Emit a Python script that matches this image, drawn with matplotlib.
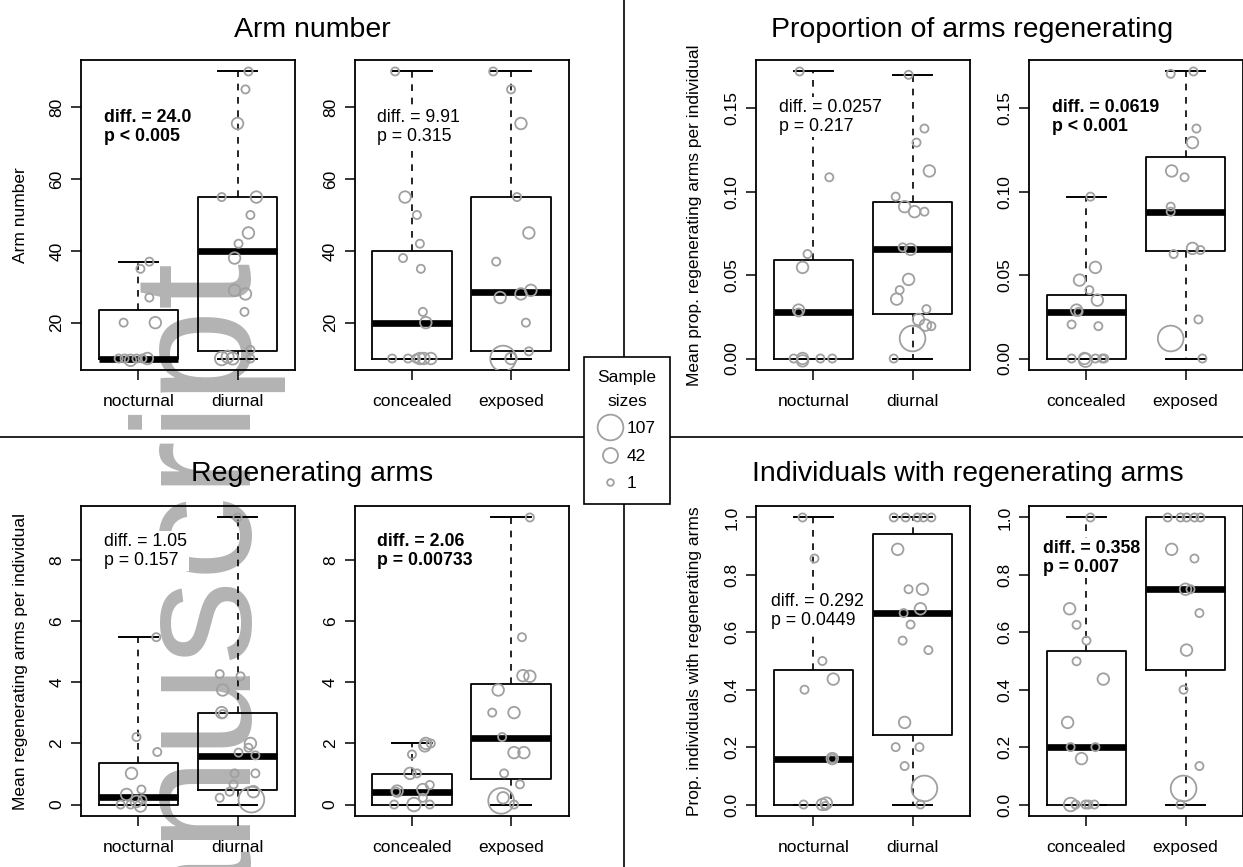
import matplotlib
matplotlib.use('Agg')
import matplotlib.pyplot as plt
from matplotlib.lines import Line2D
import numpy as np

plt.rcParams['font.family'] = ['Liberation Sans', 'DejaVu Sans']

W, H = 1243, 867

time_groups = ['nocturnal', 'diurnal']
habitat_groups = ['concealed', 'exposed']

# box stats: (lower whisker, q1, median, q3, upper whisker)
arm_time_box = [(10, 10, 10, 23.5, 37), (10, 12, 40, 55, 90)]
arm_hab_box = [(10, 10, 20, 40, 90), (10, 12, 28.5, 55, 90)]
prop_time_box = [(0, 0, 0.028, 0.059, 0.172), (0, 0.0266, 0.0658, 0.094, 0.170)]
prop_hab_box = [(0, 0, 0.028, 0.038, 0.097), (0, 0.0646, 0.088, 0.121, 0.172)]
regen_time_box = [(0, 0, 0.25, 1.35, 5.48), (0, 0.49, 1.59, 3.01, 9.4)]
regen_hab_box = [(0, 0, 0.42, 0.99, 2.0), (0, 0.82, 2.19, 3.95, 9.4)]
indiv_time_box = [(0, 0, 0.16, 0.469, 1.0), (0, 0.242, 0.667, 0.942, 1.0)]
indiv_hab_box = [(0, 0, 0.2, 0.536, 1.0), (0, 0.469, 0.75, 1.0, 1.0)]

# species points: (value, jitter, sample size)
arm_noc = [(20, -0.15, 8), (35, 0.02, 8), (37, 0.11, 8), (27, 0.11, 8), (20, 0.17, 25),
           (10, -0.2, 8), (10, -0.14, 8), (9.5, -0.08, 25), (10, -0.02, 8), (10, 0.04, 8), (10, 0.09, 25)]
arm_diu = [(90, 0.11, 8), (85, 0.08, 8), (75.5, 0, 25), (55, -0.16, 8), (55, 0.19, 25), (50, 0.13, 8),
           (45, 0.11, 25), (42, 0.01, 8), (38, -0.03, 25), (29, -0.03, 25), (28, 0.08, 25), (23, 0.07, 8),
           (12.4, 0.13, 8), (10, -0.16, 35), (10.5, -0.1, 28), (10, -0.05, 28), (10, 0.13, 8)]
arm_con = [(90, -0.17, 8), (55, -0.07, 25), (50, 0.05, 8), (42, 0.08, 8), (38, -0.09, 8), (35, 0.09, 8),
           (23, 0.11, 8), (20, 0.14, 25), (10, -0.2, 8), (10, -0.04, 8), (10, 0.04, 8), (10, 0.08, 25),
           (10, 0.12, 25), (10, 0.19, 25)]
arm_exp = [(90, -0.18, 8), (85, 0, 8), (75.5, 0.1, 25), (55, 0.06, 8), (45, 0.18, 25), (37, -0.15, 8),
           (27, -0.11, 25), (28, 0.1, 25), (29, 0.2, 25), (20, 0.15, 8), (12, 0.18, 8), (10, -0.08, 107),
           (10, 0, 25)]

prop_noc = [(0.172, -0.14, 8), (0.1086, 0.16, 8), (0.0626, -0.06, 8), (0.0546, -0.11, 25), (0.029, -0.15, 25),
            (0.0276, -0.15, 8), (0, -0.2, 8), (0, -0.11, 25), (-0.0014, -0.11, 25), (0, 0.07, 8), (0, 0.19, 8)]
prop_diu = [(0.170, -0.04, 8), (0.1378, 0.12, 8), (0.1294, 0.04, 8), (0.1124, 0.17, 25), (0.097, -0.17, 8),
            (0.091, -0.08, 25), (0.088, 0.02, 25), (0.088, 0.12, 8), (0.0666, -0.1, 8), (0.0654, -0.02, 25),
            (0.0474, -0.04, 25), (0.041, -0.13, 8), (0.0356, -0.16, 25), (0.0296, 0.14, 8), (0.0234, 0.06, 25),
            (0.020, 0.13, 25), (0.0194, 0.19, 8), (0.012, 0, 107), (0, -0.19, 8)]
prop_con = [(0.097, 0.04, 8), (0.0546, 0.09, 25), (0.047, -0.07, 25), (0.041, 0.03, 8), (0.035, 0.11, 25),
            (0.029, -0.1, 25), (0.028, -0.08, 8), (0.0204, -0.15, 8), (0.0194, 0.12, 8), (0, -0.15, 8),
            (0, -0.02, 25), (-0.001, -0.01, 35), (0, 0.09, 8), (0, 0.16, 8), (0, 0.18, 8)]
prop_exp = [(0.1706, -0.15, 8), (0.172, 0.08, 8), (0.1378, 0.11, 8), (0.1294, 0.07, 25), (0.1124, -0.14, 25),
            (0.1086, -0.01, 8), (0.091, -0.15, 8), (0.088, -0.15, 8), (0.0626, -0.12, 8), (0.066, 0.07, 25),
            (0.065, 0.15, 8), (0.0234, 0.13, 8), (0.012, -0.15, 107), (0, 0.17, 8)]

regen_noc = [(5.48, 0.18, 8), (2.21, -0.02, 8), (1.72, 0.19, 8), (1.02, -0.07, 25), (0.49, 0.03, 8),
             (0.33, -0.12, 25), (0, -0.18, 8), (0, -0.08, 8), (0.1, -0.02, 25), (-0.05, 0.02, 25), (0.16, 0.04, 8)]
regen_diu = [(9.4, 0, 8), (4.27, -0.18, 8), (4.2, 0.03, 8), (3.75, -0.15, 25), (3.01, -0.16, 25),
             (2.96, -0.15, 8), (2.0, 0.13, 25), (1.86, 0.11, 8), (1.7, 0.01, 8), (1.61, 0.18, 8),
             (1.02, -0.03, 8), (1.02, 0.18, 8), (0.66, -0.04, 8), (0.42, -0.08, 8), (0.42, 0.16, 25),
             (0.22, -0.18, 8), (0.16, 0.14, 107)]
regen_con = [(2.0, 0.14, 25), (2.0, 0.19, 8), (1.92, 0.13, 25), (1.64, 0, 8), (1.02, -0.02, 25),
             (1.02, 0.05, 8), (0.64, 0.18, 8), (0.49, 0.11, 25), (0.44, -0.15, 25), (0.42, -0.16, 8),
             (0.22, 0.11, 8), (0, -0.18, 8), (0, 0.02, 35), (0, 0.18, 8)]
regen_exp = [(9.4, 0.19, 8), (5.48, 0.11, 8), (4.22, 0.12, 25), (4.2, 0.19, 25), (3.75, -0.13, 25),
             (3.01, -0.19, 8), (3.01, 0.03, 25), (2.21, -0.09, 8), (1.7, 0.03, 25), (1.7, 0.13, 25),
             (1.02, -0.07, 8), (0.66, 0.09, 8), (0.12, -0.1, 107), (0.22, -0.08, 25), (0, 0.03, 8)]

indiv_noc = [(1.0, -0.11, 8), (0.857, 0.01, 8), (0.5, 0.09, 8), (0.437, 0.2, 25), (0.4, -0.09, 8),
             (0.16, 0.19, 25), (0.16, 0.19, 8), (0, -0.1, 8), (0, 0.09, 25), (0.005, 0.13, 25), (-0.005, 0.12, 8)]
indiv_diu = [(1, -0.19, 8), (1, -0.07, 8), (1, 0.05, 8), (1, 0.11, 8), (1, 0.19, 8), (0.889, -0.15, 25),
             (0.75, -0.04, 8), (0.75, 0.1, 25), (0.682, 0.08, 25), (0.667, -0.09, 8), (0.627, -0.02, 8),
             (0.571, -0.1, 8), (0.538, 0.16, 8), (0.286, -0.08, 25), (0.2, -0.17, 8), (0.2, 0.07, 8),
             (0.134, -0.08, 8), (0.056, 0.12, 107), (0, 0.08, 8)]
indiv_con = [(1.0, 0.04, 8), (0.682, -0.17, 25), (0.626, -0.1, 8), (0.571, 0, 8), (0.499, -0.1, 8),
             (0.437, 0.17, 25), (0.286, -0.19, 25), (0.2, -0.16, 8), (0.2, 0.09, 8), (0.16, -0.05, 25),
             (0, -0.16, 35), (0, -0.11, 8), (0, -0.01, 8), (0, 0.02, 8), (0, 0.08, 8)]
indiv_exp = [(1, -0.18, 8), (1, -0.05, 8), (1, 0.01, 8), (1, 0.09, 8), (1, 0.15, 8), (0.889, -0.14, 25),
             (0.857, 0.09, 8), (0.75, 0, 25), (0.75, 0.05, 8), (0.667, 0.14, 8), (0.538, 0.01, 25),
             (0.4, -0.02, 8), (0.134, 0.14, 8), (0.056, -0.02, 107), (0, -0.05, 8)]

titles = ['Arm number', 'Proportion of arms regenerating', 'Regenerating arms',
          'Individuals with regenerating arms']
ylabels = ['Arm number', 'Mean prop. regenerating arms per individual',
           'Mean regenerating arms per individual', 'Prop. individuals with regenerating arms']
yticks_arm = [20, 40, 60, 80]
yticks_prop = [0.0, 0.05, 0.10, 0.15]
yticks_regen = [0, 2, 4, 6, 8]
yticks_indiv = [0.0, 0.2, 0.4, 0.6, 0.8, 1.0]
annotations = [('diff. = 24.0\np < 0.005', True), ('diff. = 9.91\np = 0.315', False),
               ('diff. = 0.0257\np = 0.217', False), ('diff. = 0.0619\np < 0.001', True),
               ('diff. = 1.05\np = 0.157', False), ('diff. = 2.06\np = 0.00733', True),
               ('diff. = 0.292\np = 0.0449', False), ('diff. = 0.358\np = 0.007', True)]
legend_sizes = [107, 42, 1]

BASE = 12.5
GREY = '#a0a0a0'


def diam_px(n):
    # circle diameter in pixels for a sample size, matched to legend
    return np.interp(n, [1, 42, 107], [6.7, 15.0, 25.7])


def px_axes(x0, y0, x1, y1):
    return fig.add_axes([x0 / W, 1 - y1 / H, (x1 - x0) / W, (y1 - y0) / H])


def draw_sub(ax, boxes, pts_a, pts_b, labels, yticks, fmt, note, note_xy):
    stats = [dict(whislo=b[0], q1=b[1], med=b[2], q3=b[3], whishi=b[4], fliers=[]) for b in boxes]
    ax.bxp(stats, positions=[1, 2], widths=0.8, capwidths=0.4, showfliers=False,
           boxprops=dict(color='k', lw=1.3),
           whiskerprops=dict(color='k', lw=1.2, ls=(0, (4, 4))),
           capprops=dict(color='k', lw=1.4),
           medianprops=dict(color='k', lw=4.8, solid_capstyle='butt'),
           manage_ticks=False)
    for pos, pts in zip([1, 2], [pts_a, pts_b]):
        vals = np.array([p[0] for p in pts])
        jit = np.array([p[1] for p in pts])
        ns = np.array([p[2] for p in pts])
        ax.scatter(pos + jit, vals, s=(diam_px(ns) * 0.72) ** 2, facecolors='none',
                   edgecolors=GREY, linewidths=1.3, zorder=4)
    allv = [b[0] for b in boxes] + [b[4] for b in boxes]
    lo, hi = min(allv), max(allv)
    ext = (hi - lo) * 0.04
    ax.set_ylim(lo - ext, hi + ext)
    ax.set_xlim(0.42, 2.58)
    ax.set_xticks([1, 2])
    ax.set_xticklabels(labels)
    ax.set_yticks(yticks)
    ax.set_yticklabels([fmt.format(t) for t in yticks])
    ax.tick_params(axis='both', length=7, width=1.1, labelsize=BASE, direction='out')
    ax.tick_params(axis='x', pad=10)
    ax.tick_params(axis='y', pad=5, labelrotation=90)
    for lbl in ax.get_yticklabels():
        lbl.set_va('center')
    ax.set_facecolor('none')
    for sp in ax.spines.values():
        sp.set_linewidth(1.3)
    text, bold = note
    ax.text(note_xy[0], note_xy[1], text, transform=ax.transAxes, ha='left', va='center',
            fontsize=BASE + 0.3, fontweight='bold' if bold else 'normal', linespacing=1.15, zorder=5,
            bbox=dict(facecolor='white', edgecolor='none', pad=1.5))


fig = plt.figure(figsize=(W / 100, H / 100), dpi=100)
fig.patch.set_facecolor('white')

# faint watermark behind the plots
fig.text(237 / W, 1 - 248 / H, 'Manuscript', rotation=90, rotation_mode='anchor', ha='right',
         va='baseline', fontsize=121, color='#b3b3b3', zorder=-1)

cols = [(81, 295), (354.5, 568.5), (756, 970), (1029, 1243)]
rows = [(60, 370), (506, 816)]

panels = [
    (rows[0], cols[0], cols[1], arm_time_box, arm_hab_box, [arm_noc, arm_diu], [arm_con, arm_exp],
     yticks_arm, '{:g}', (annotations[0], (0.106, 0.784)), (annotations[1], (0.106, 0.784))),
    (rows[0], cols[2], cols[3], prop_time_box, prop_hab_box, [prop_noc, prop_diu], [prop_con, prop_exp],
     yticks_prop, '{:.2f}', (annotations[2], (0.108, 0.815)), (annotations[3], (0.106, 0.815))),
    (rows[1], cols[0], cols[1], regen_time_box, regen_hab_box, [regen_noc, regen_diu], [regen_con, regen_exp],
     yticks_regen, '{:g}', (annotations[4], (0.106, 0.855)), (annotations[5], (0.106, 0.855))),
    (rows[1], cols[2], cols[3], indiv_time_box, indiv_hab_box, [indiv_noc, indiv_diu], [indiv_con, indiv_exp],
     yticks_indiv, '{:.1f}', (annotations[6], (0.07, 0.661)), (annotations[7], (0.066, 0.832))),
]

for (y0, y1), c1, c2, box1, box2, pts1, pts2, yt, fmt, n1, n2 in panels:
    ax1 = px_axes(c1[0], y0, c1[1], y1)
    draw_sub(ax1, box1, pts1[0], pts1[1], time_groups, yt, fmt, n1[0], n1[1])
    ax2 = px_axes(c2[0], y0, c2[1], y1)
    draw_sub(ax2, box2, pts2[0], pts2[1], habitat_groups, yt, fmt, n2[0], n2[1])

title_pos = [(312, 37), (972, 37), (312, 481), (968, 481)]
for t, (x, y) in zip(titles, title_pos):
    fig.text(x / W, 1 - y / H, t, ha='center', va='baseline', fontsize=20.5)

ylabel_pos = [(21, 215), (694, 215), (21, 661), (694, 661)]
for t, (x, y) in zip(ylabels, ylabel_pos):
    fig.text(x / W, 1 - y / H, t, rotation=90, ha='center', va='center', fontsize=BASE)

# panel dividers
fig.add_artist(Line2D([624 / W, 624 / W], [0, 1], transform=fig.transFigure, color='k', lw=1.2, zorder=1))
fig.add_artist(Line2D([0, 1], [1 - 437 / H, 1 - 437 / H], transform=fig.transFigure, color='k', lw=1.2, zorder=1))

handles = [Line2D([], [], ls='none', marker='o', ms=diam_px(n) * 0.72, mfc='none', mec=GREY, mew=1.3)
           for n in legend_sizes]
leg = fig.legend(handles, [str(n) for n in legend_sizes], title='Sample\nsizes', loc='upper center',
                 bbox_to_anchor=(627 / W, 1 - 357 / H), fontsize=BASE, title_fontsize=BASE,
                 frameon=True, fancybox=False, edgecolor='k', framealpha=1, handlelength=1.4,
                 handletextpad=0.25, labelspacing=0.7, borderpad=0.75, borderaxespad=0,
                 alignment='center')
leg.get_frame().set_linewidth(1.2)
leg.get_title().set_multialignment('center')
leg.get_title().set_linespacing(1.75)
leg.set_zorder(6)

fig.savefig('out.png', dpi=100)
